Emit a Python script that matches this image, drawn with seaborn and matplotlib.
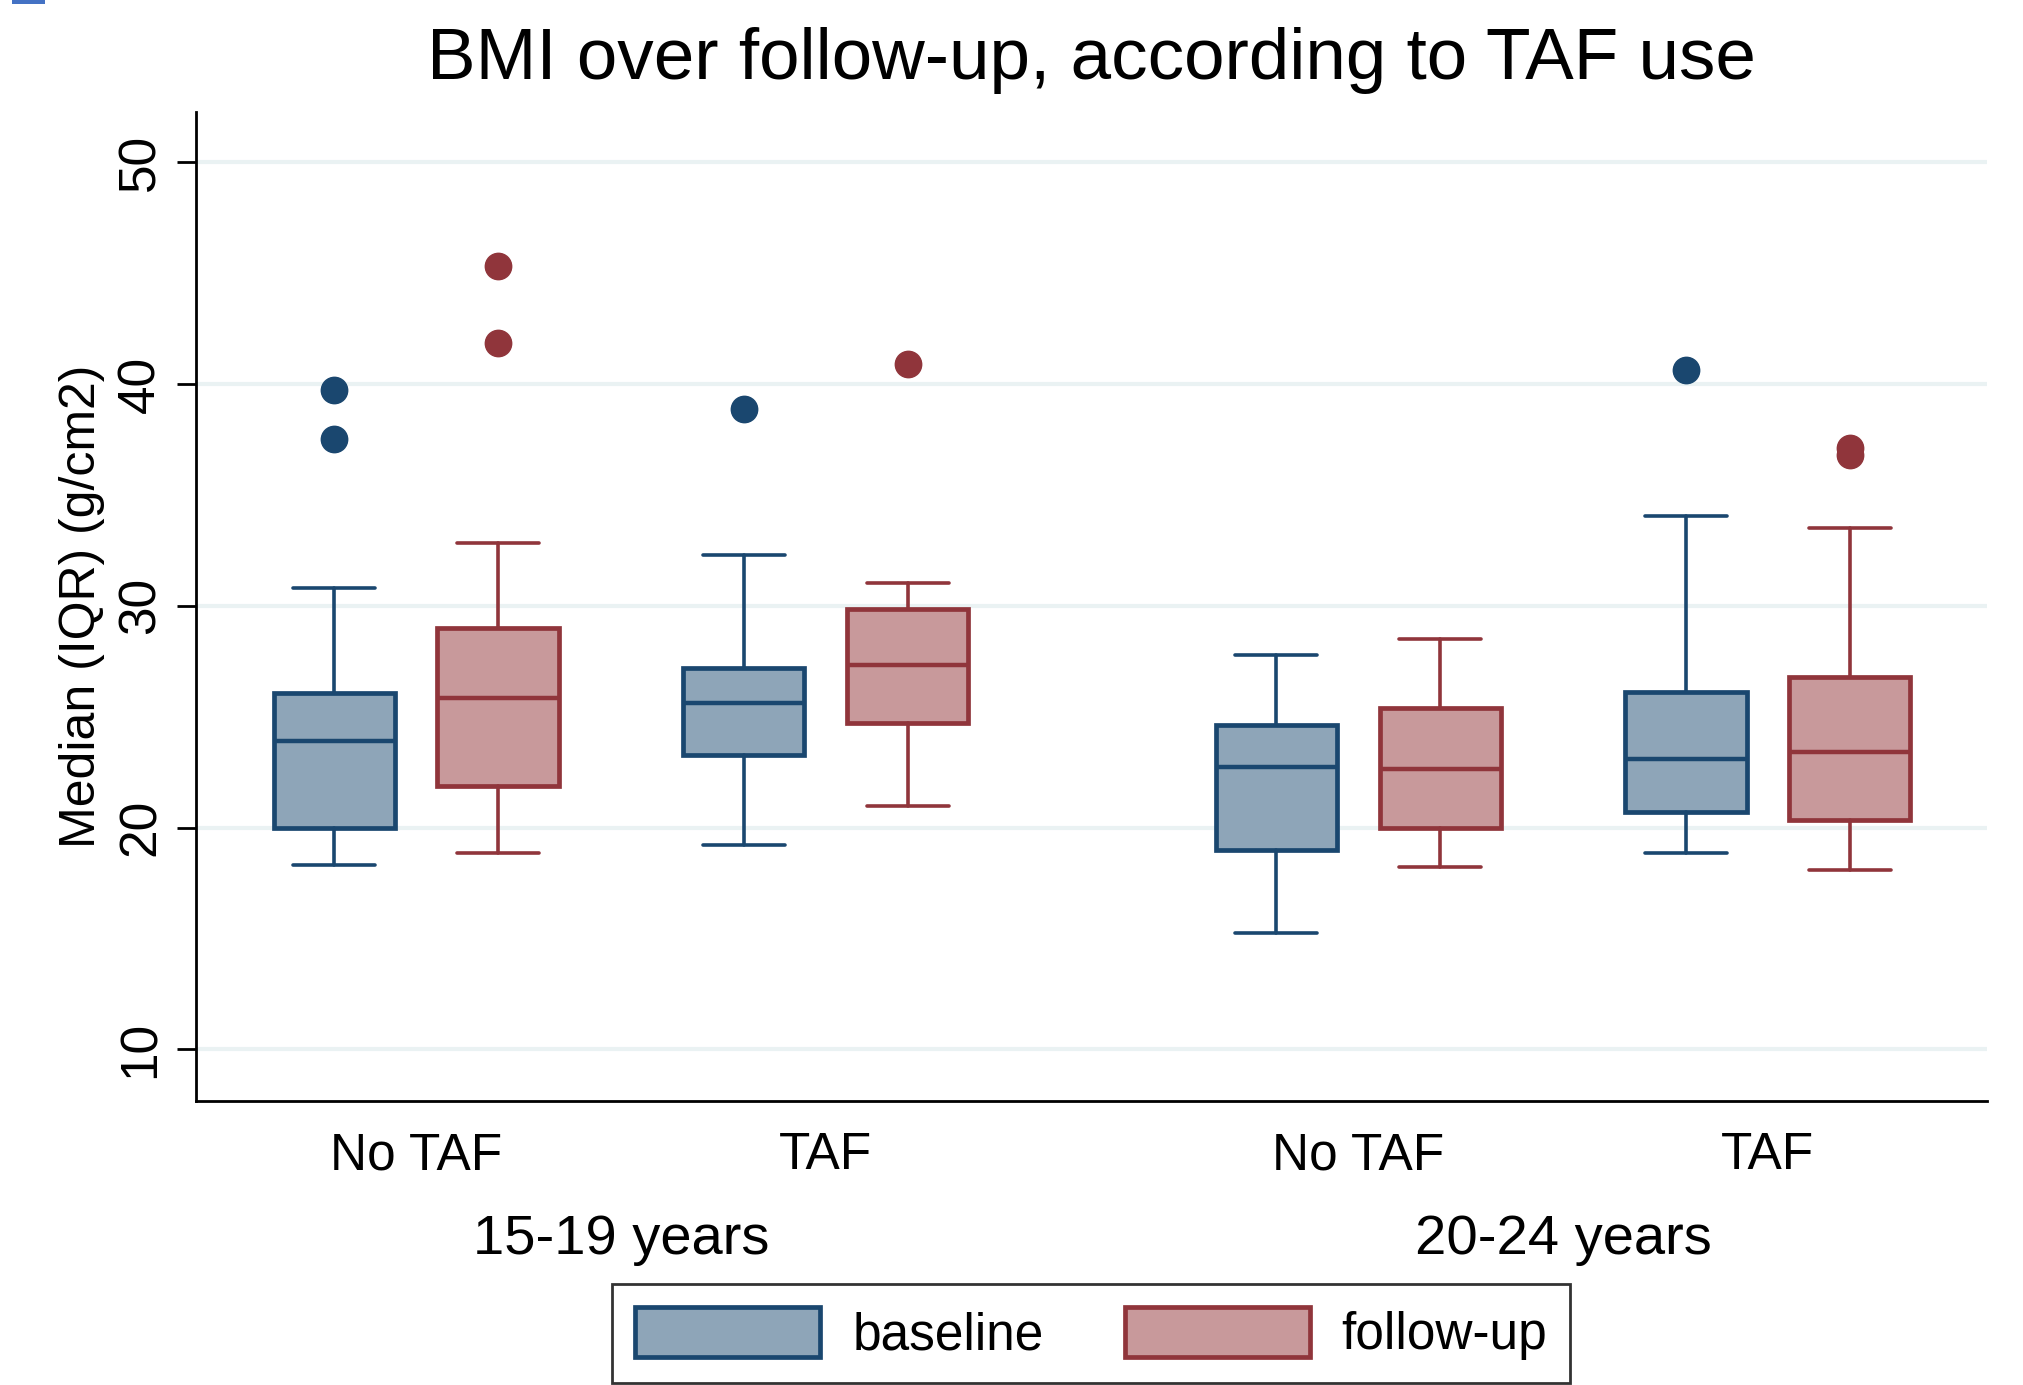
#!/usr/bin/env python3
"""
BMI over follow-up, according to TAF use.
Grouped box plot (baseline vs follow-up) by age group and TAF use.
"""

import numpy as np
import matplotlib
matplotlib.use('Agg')
import matplotlib.pyplot as plt
import seaborn as sns
from matplotlib.patches import Patch, Rectangle

# Categories
age_groups = ['15-19 years', '20-24 years']
taf_labels = ['No TAF', 'TAF', 'No TAF', 'TAF']
series = ['baseline', 'follow-up']

# Box summaries, order: 15-19 No TAF, 15-19 TAF, 20-24 No TAF, 20-24 TAF
baseline_whislo = [18.33, 19.20, 15.24, 18.85]
baseline_q1 = [19.96, 23.28, 18.97, 20.71]
baseline_med = [23.92, 25.60, 22.75, 23.10]
baseline_q3 = [26.07, 27.18, 24.61, 26.13]
baseline_whishi = [30.79, 32.30, 27.76, 34.05]
baseline_fliers = [[39.75, 37.54], [38.88], [], [40.63]]

followup_whislo = [18.85, 20.95, 18.21, 18.09]
followup_q1 = [21.88, 24.73, 19.96, 20.36]
followup_med = [25.84, 27.35, 22.63, 23.39]
followup_q3 = [28.98, 29.85, 25.37, 26.77]
followup_whishi = [32.82, 31.02, 28.52, 33.52]
followup_fliers = [[45.34, 41.85], [40.92], [], [37.13, 36.78]]

y_ticks = [10, 20, 30, 40, 50]

# Stata-like colours
edge_colors = ['#1a476f', '#90353b']
fill_colors = ['#8ea5b8', '#c8999b']
grid_color = '#eaf2f3'

sns.set_style('white')
plt.rcParams['font.family'] = ['Liberation Sans', 'DejaVu Sans']
plt.rcParams['text.color'] = 'black'
plt.rcParams['axes.labelcolor'] = 'black'
plt.rcParams['xtick.color'] = 'black'
plt.rcParams['ytick.color'] = 'black'


def make_stats(lo, q1, med, q3, hi, fl):
    return [dict(whislo=a, q1=b, med=c, q3=d, whishi=e, fliers=np.array(f))
            for a, b, c, d, e, f in zip(lo, q1, med, q3, hi, fl)]


def create_plot():
    fig = plt.figure(figsize=(20.23, 13.85), dpi=100)
    ax = fig.add_axes([0.0969, 0.2051, 0.8853, 0.714])

    # category centres (within group spacing 2.5, gap between age groups)
    centres = np.array([0.0, 2.5, 5.75, 8.25])
    offsets = [-0.5, 0.5]

    all_stats = [
        make_stats(baseline_whislo, baseline_q1, baseline_med, baseline_q3,
                   baseline_whishi, baseline_fliers),
        make_stats(followup_whislo, followup_q1, followup_med, followup_q3,
                   followup_whishi, followup_fliers),
    ]

    for s, stats in enumerate(all_stats):
        ec, fc = edge_colors[s], fill_colors[s]
        ax.bxp(stats, positions=centres + offsets[s], widths=0.74,
               patch_artist=True, showfliers=True,
               boxprops=dict(facecolor=fc, edgecolor=ec, linewidth=3.4),
               medianprops=dict(color=ec, linewidth=3.2),
               whiskerprops=dict(color=ec, linewidth=2.6),
               capprops=dict(color=ec, linewidth=2.6),
               capwidths=0.5,
               flierprops=dict(marker='o', markerfacecolor=ec,
                               markeredgecolor=ec, markersize=19),
               zorder=3)

    # Axes styling
    ax.set_xlim(-1.343, 9.587)
    ax.set_ylim(7.67, 52.27)
    ax.set_yticks(y_ticks)
    ax.set_yticklabels([str(t) for t in y_ticks], rotation=90, va='center',
                       fontsize=37)
    ax.tick_params(axis='y', length=14, width=2, direction='out', pad=8,
                   left=True)
    ax.set_xticks(centres)
    ax.set_xticklabels(taf_labels, fontsize=37)
    ax.tick_params(axis='x', length=0, pad=22)
    for y in y_ticks:
        ax.axhline(y, color=grid_color, linewidth=3, zorder=0)

    for side in ['top', 'right']:
        ax.spines[side].set_visible(False)
    for side in ['left', 'bottom']:
        ax.spines[side].set_color('black')
        ax.spines[side].set_linewidth(2)

    ax.set_ylabel('Median (IQR) (g/cm2)', fontsize=36, labelpad=8)
    ax.set_title('BMI over follow-up, according to TAF use', fontsize=52.5,
                 pad=24, x=0.5)

    # age group labels under the category labels
    group_mid = [centres[:2].mean(), centres[2:].mean()]
    for g, xm in zip(age_groups, group_mid):
        ax.text(xm, -0.141, g, transform=ax.get_xaxis_transform(),
                ha='center', va='center', fontsize=40.4)

    # legend
    handles = [Patch(facecolor=fill_colors[i], edgecolor=edge_colors[i],
                     linewidth=3.4, label=series[i]) for i in range(2)]
    leg = fig.legend(handles=handles, loc='lower center',
                     bbox_to_anchor=(0.5395, 0.0), ncol=2, fontsize=37,
                     frameon=True, fancybox=False, edgecolor='black',
                     handlelength=3.6, handleheight=1.1, columnspacing=1.58,
                     handletextpad=0.62, borderpad=0.45, borderaxespad=0.03)
    leg.get_frame().set_linewidth(2)

    # small blue tab in top-left corner of the original export
    fig.patches.append(Rectangle((0.006, 0.997), 0.016, 0.004,
                                 transform=fig.transFigure,
                                 facecolor='#4472c4', edgecolor='none'))

    fig.savefig('out.png', dpi=100)


if __name__ == '__main__':
    create_plot()
